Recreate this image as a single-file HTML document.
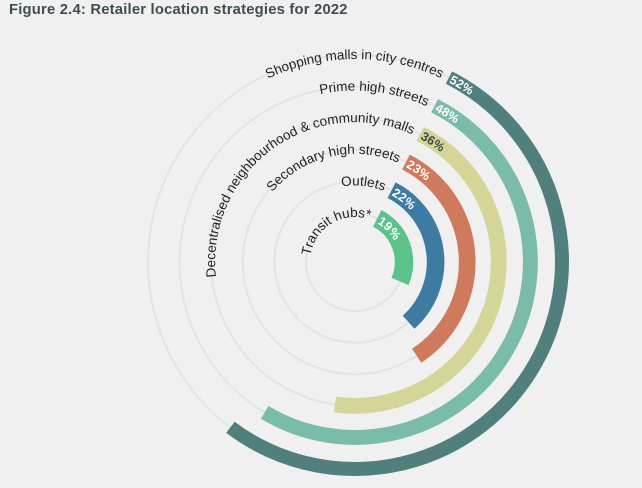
<!DOCTYPE html>
<html><head><meta charset="utf-8">
<style>
html,body{margin:0;padding:0;background:#eff0ef;}
body{width:642px;height:488px;overflow:hidden;position:relative;font-family:"Liberation Sans",sans-serif;}
#title{position:absolute;left:9px;top:2px;font-size:14.8px;font-weight:bold;color:#3e4d54;letter-spacing:0.2px;}
svg{position:absolute;left:0;top:0;}
</style></head>
<body>
<div id="title">Figure 2.4: Retailer location strategies for 2022</div>
<svg id="chart" width="642" height="488"></svg>
<script>
const categories = ["Transit hubs*","Outlets","Secondary high streets","Decentralised neighbourhood & community malls","Prime high streets","Shopping malls in city centres"];
const values = [19,22,23,36,48,52];
const valueLabels = ["19%","22%","23%","36%","48%","52%"];
const colors = ["#5bc289","#3e7ba3","#cf795d","#d5d597","#7bbbac","#507f7e"];
const labelColors = ["#ffffff","#ffffff","#ffffff","#3c4a4a","#ffffff","#ffffff"];

const NS="http://www.w3.org/2000/svg";
const svg=document.getElementById('chart');
const cx=355, cy=262;
const startDeg=27;
// angular axis: value -> sweep degrees
const angDomain=[0,18,24,40,52,60];
const angRange=[0,78,128,172,190,200];
function angleScale(v){
  for(let i=1;i<angDomain.length;i++){
    if(v<=angDomain[i]||i===angDomain.length-1){
      const t=(v-angDomain[i-1])/(angDomain[i]-angDomain[i-1]);
      return angRange[i-1]+t*(angRange[i]-angRange[i-1]);
    }
  }
}
function radiusScale(i){return 49+i*31.6;}
function widthScale(i){return 18.5-i*0.9;}
function pt(r,deg){const a=(deg-90)*Math.PI/180;return [cx+r*Math.cos(a),cy+r*Math.sin(a)];}
function arcPath(r,a0,a1){
  const p0=pt(r,a0),p1=pt(r,a1);
  const large=(a1-a0)>180?1:0;
  return `M${p0[0].toFixed(2)},${p0[1].toFixed(2)} A${r},${r} 0 ${large} 1 ${p1[0].toFixed(2)},${p1[1].toFixed(2)}`;
}
const defs=document.createElementNS(NS,'defs');svg.appendChild(defs);

categories.forEach((c,i)=>{
  const r=radiusScale(i);
  const track=document.createElementNS(NS,'circle');
  
  
  track.setAttribute('cx',cx);track.setAttribute('cy',cy);track.setAttribute('r',r);
  track.setAttribute('fill','none');track.setAttribute('stroke','#e3e5e5');track.setAttribute('stroke-width','2.2');
  svg.appendChild(track);
});

categories.forEach((c,i)=>{
  const r=radiusScale(i), w=widthScale(i);
  const sweep=angleScale(values[i]);
  const bar=document.createElementNS(NS,'path');
  
  
  bar.setAttribute('d',arcPath(r,startDeg,startDeg+sweep));
  bar.setAttribute('fill','none');bar.setAttribute('stroke',colors[i]);bar.setAttribute('stroke-width',w);
  svg.appendChild(bar);

  const gapDeg=7/r*180/Math.PI;
  const lp=document.createElementNS(NS,'path');
  lp.setAttribute('id','lp'+i);
  lp.setAttribute('d',arcPath(r-4,-178,startDeg-gapDeg));
  defs.appendChild(lp);
  const t=document.createElementNS(NS,'text');
  
  
  t.setAttribute('font-size','13.5');t.setAttribute('fill','#222');t.setAttribute('text-anchor','end');
  const tp=document.createElementNS(NS,'textPath');
  tp.setAttribute('href','#lp'+i);tp.setAttribute('startOffset','100%');
  tp.textContent=c;t.appendChild(tp);svg.appendChild(t);

  const vp=document.createElementNS(NS,'path');
  vp.setAttribute('id','vp'+i);
  vp.setAttribute('d',arcPath(r-4.5,startDeg,startDeg+sweep));
  defs.appendChild(vp);
  const vt=document.createElementNS(NS,'text');
  
  
  vt.setAttribute('font-size','12.5');vt.setAttribute('font-weight','bold');vt.setAttribute('fill',labelColors[i]);
  const vtp=document.createElementNS(NS,'textPath');
  vtp.setAttribute('href','#vp'+i);vtp.setAttribute('startOffset','2');
  vtp.textContent=valueLabels[i];vt.appendChild(vtp);svg.appendChild(vt);
});
</script>
</body></html>
